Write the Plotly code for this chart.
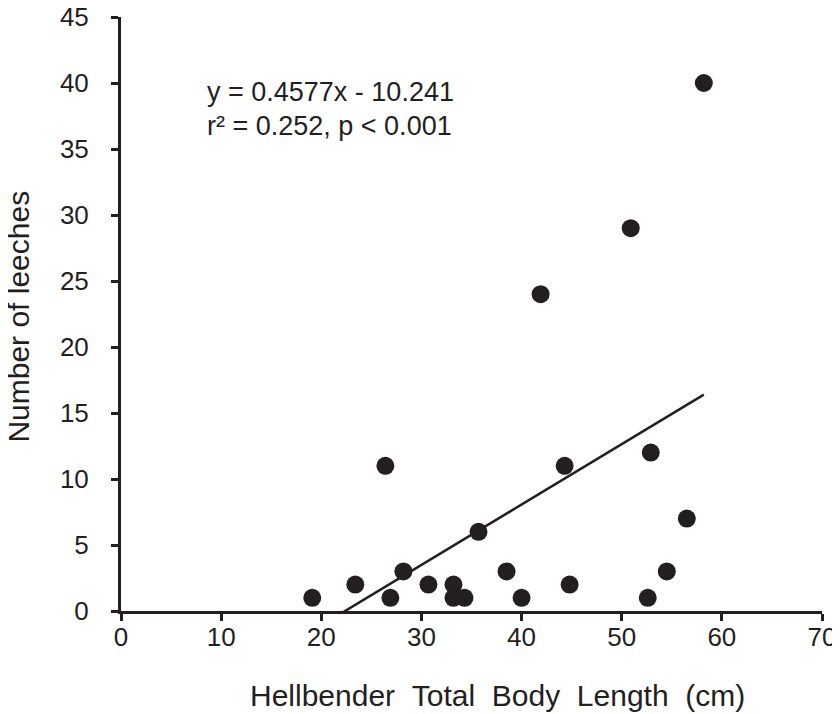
import plotly.graph_objects as go

body_length = [19.1, 23.4, 26.4, 26.9, 28.2, 30.7, 33.2, 33.2, 34.3, 35.7, 38.5,
               40.0, 41.9, 44.3, 44.8, 50.9, 52.6, 52.9, 54.5, 56.5, 58.2]
leeches = [1, 2, 11, 1, 3, 2, 2, 1, 1, 6, 3,
           1, 24, 11, 2, 29, 1, 12, 3, 7, 40]
slope = 0.4577
intercept = -10.241
x_ticks = [0, 10, 20, 30, 40, 50, 60, 70]
y_ticks = [0, 5, 10, 15, 20, 25, 30, 35, 40, 45]
eq_text = "y = 0.4577x - 10.241"
stat_text = "r² = 0.252, p < 0.001"
x_title = "Hellbender Total Body Length (cm)"
y_title = "Number of leeches"

fit_x = [min(body_length), max(body_length)]
fit_y = [slope * v + intercept for v in fit_x]

ink = "#231f20"
font = "Liberation Sans, Arial, sans-serif"
gap = " \u00a0"

fig = go.Figure()
fig.add_trace(go.Scatter(x=fit_x, y=fit_y, mode="lines",
                         line=dict(color=ink, width=2.5), showlegend=False))
fig.add_trace(go.Scatter(x=body_length, y=leeches, mode="markers",
                         marker=dict(color=ink, size=18), showlegend=False,
                         cliponaxis=False))

fig.add_annotation(x=0.120, y=0.874, xref="paper", yref="paper", text=eq_text,
                   showarrow=False, xanchor="left", yanchor="middle",
                   font=dict(family=font, size=27, color=ink))
fig.add_annotation(x=0.120, y=0.817, xref="paper", yref="paper", text=stat_text,
                   showarrow=False, xanchor="left", yanchor="middle",
                   font=dict(family=font, size=27, color=ink))
# axis titles (x title sits right of the plot centre, as in the original)
fig.add_annotation(x=0.537, y=-0.142, xref="paper", yref="paper",
                   text=gap.join(x_title.split(" ")), showarrow=False,
                   xanchor="center", yanchor="middle",
                   font=dict(family=font, size=30, color=ink))
fig.add_annotation(x=-0.146, y=0.495, xref="paper", yref="paper",
                   text=y_title, showarrow=False, textangle=-90,
                   xanchor="center", yanchor="middle",
                   font=dict(family=font, size=30, color=ink))

axis_common = dict(showline=True, linecolor=ink, linewidth=3, ticks="outside",
                   ticklen=7, tickwidth=2.5, tickcolor=ink, showgrid=False,
                   zeroline=False, automargin=False, ticklabeloverflow="allow",
                   tickfont=dict(family=font, size=26, color=ink))

fig.update_xaxes(range=[0, 70], tickvals=x_ticks, ticklabelstandoff=-6,
                 **axis_common)
fig.update_yaxes(range=[0, 45], tickvals=y_ticks, ticklabelstandoff=17,
                 **axis_common)

# page body adds an 8px offset, so the figure is 8px smaller than the window
fig.update_layout(width=832, height=706, plot_bgcolor="white", paper_bgcolor="white",
                  margin=dict(l=113, r=18, t=9, b=103))

fig.write_html("out.html")
